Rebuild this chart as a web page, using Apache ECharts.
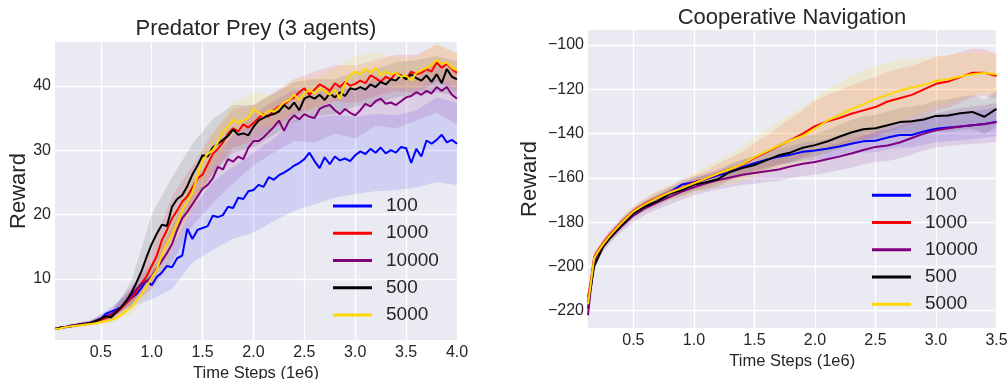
<!DOCTYPE html>
<html>
<head>
<meta charset="utf-8">
<script src="https://cdn.jsdelivr.net/npm/echarts@6/dist/echarts.min.js"></script>
<style>html,body{margin:0;padding:0;background:#fff}#c{width:1008px;height:379px}</style>
</head>
<body>
<div id="c"></div>
<script>
// ---------- shared ----------
const seriesNames = ['100', '1000', '10000', '500', '5000'];
const seriesColors = ['#0000FF', '#FF0000', '#800080', '#000000', '#FFD700'];
const bandColors = ['rgba(0,0,255,0.11)', 'rgba(255,0,0,0.11)', 'rgba(128,0,128,0.12)', 'rgba(0,0,0,0.10)', 'rgba(255,215,0,0.13)'];

// ---------- Predator Prey (3 agents) ----------
const ppSteps = Array.from({length: 80}, (_, i) => +(0.05 * (i + 1)).toFixed(2));
const pp100 = [2.2,2.4,2.5,2.7,2.8,3.0,3.0,3.2,3.5,3.8,
  4.6,4.9,5.2,5.6,6.3,7.0,7.6,8.6,9.8,9.0,
  10.3,11.0,12.0,11.8,13.2,13.6,17.8,16.2,17.6,17.9,
  18.2,19.8,19.6,19.9,21.2,21.0,22.6,22.4,23.6,23.8,
  24.6,24.3,25.8,25.4,26.1,26.5,27.0,27.6,28.0,28.6,
  29.6,28.3,27.2,28.9,27.8,29.0,28.4,28.7,28.3,29.2,
  29.8,29.4,30.2,29.6,30.4,29.5,30.0,29.6,30.5,30.3,
  28.0,30.2,29.0,31.5,31.0,31.6,32.4,31.2,31.6,31.0];
const pp1000 = [2.2,2.4,2.5,2.6,2.8,2.9,3.0,3.1,3.3,3.6,
  3.9,4.2,4.7,5.4,6.2,7.0,8.0,9.3,10.4,12.0,
  13.6,16.0,17.6,19.4,20.6,22.0,22.8,24.2,25.6,26.2,
  27.8,29.4,30.2,31.2,32.6,33.4,32.9,34.0,33.5,34.2,
  35.0,35.6,35.2,36.2,36.8,37.0,37.8,38.2,39.0,39.6,
  38.6,39.4,40.2,39.8,39.2,40.4,39.8,40.6,40.0,40.3,
  40.8,40.4,41.6,41.2,40.6,41.4,41.0,42.0,41.6,41.2,
  42.2,41.8,42.0,42.6,42.2,43.6,42.8,43.4,42.6,42.0];
const pp10000 = [2.2,2.4,2.5,2.7,2.8,3.0,3.1,3.2,3.5,3.8,
  4.2,4.5,5.0,5.6,6.4,7.4,8.4,9.2,9.6,10.4,
  11.6,12.8,14.0,15.4,17.6,19.4,20.4,21.6,22.8,24.0,
  24.6,25.6,27.4,27.0,28.6,28.2,29.0,28.6,30.4,31.4,
  31.4,32.0,32.8,33.6,34.6,33.0,34.6,35.4,34.8,35.6,
  35.2,35.0,36.4,36.8,37.0,36.2,35.6,36.4,35.8,35.4,
  36.2,37.2,36.8,37.6,38.0,37.2,37.4,37.0,37.6,38.2,
  38.4,39.0,38.6,39.2,38.8,39.8,39.2,39.8,38.6,38.0];
const pp500 = [2.2,2.4,2.5,2.6,2.8,2.9,3.0,3.2,3.4,3.8,
  4.2,4.0,4.8,5.6,6.6,7.8,9.4,11.2,13.4,15.4,
  17.0,18.4,18.2,21.2,22.4,23.0,24.4,26.2,27.6,29.2,
  29.0,30.4,31.0,31.6,32.2,33.2,32.4,32.6,32.3,33.6,
  34.6,35.0,35.4,35.6,36.0,37.0,36.4,37.4,36.2,38.0,
  38.4,38.0,38.6,37.8,38.8,38.2,39.0,38.4,39.6,39.4,
  39.8,39.4,40.2,39.8,40.6,40.2,41.0,40.8,41.6,41.0,
  41.8,41.2,40.8,41.6,40.6,41.8,40.4,42.6,41.4,41.0];
const pp5000 = [2.2,2.3,2.5,2.6,2.7,2.8,2.9,3.0,3.1,3.3,
  3.4,3.6,3.9,4.4,5.0,5.6,6.6,7.6,8.8,10.2,
  11.4,13.8,15.4,16.8,18.6,20.6,22.0,23.4,26.0,28.4,
  29.4,30.0,31.2,32.8,33.6,34.8,34.2,34.6,35.0,36.4,
  35.8,35.4,36.2,36.0,36.6,37.4,37.8,38.6,37.8,38.8,
  39.4,38.8,39.6,39.2,38.6,39.4,38.0,40.4,41.6,42.2,
  41.8,42.6,42.0,42.8,41.6,42.2,41.8,42.0,41.4,41.6,
  40.8,42.0,42.4,42.8,43.2,44.0,43.4,43.6,42.8,42.4];
const ppBandSteps = [0.05,0.2,0.4,0.6,0.8,1.0,1.2,1.4,1.6,1.8,2.0,2.2,2.4,2.6,2.8,3.0,3.2,3.4,3.6,3.8,4.0];
const pp100Lo = [2.0,2.5,2.9,4.2,5.8,6.8,8.5,12.5,14.5,16.2,17.2,19.0,20.6,21.6,22.6,23.2,23.6,23.8,24.2,25.0,24.6];
const pp100Hi = [2.4,2.9,3.5,5.6,8.2,11.2,15.1,21.0,25.1,27.4,29.6,31.8,34.6,35.0,35.4,35.2,35.6,35.4,36.2,38.2,37.4];
const pp1000Lo = [2.0,2.4,2.8,3.6,5.6,9.4,16.0,20.8,26.2,30.4,31.4,33.4,35.4,36.6,37.6,37.4,38.4,39.2,38.8,40.6,39.0];
const pp1000Hi = [2.4,2.8,3.4,4.8,8.4,14.6,22.8,27.6,32.6,36.4,37.0,39.0,41.0,42.2,43.2,43.2,44.0,44.8,44.8,46.4,45.0];
const pp10000Lo = [2.0,2.4,2.8,3.8,6.0,8.4,12.6,18.2,21.8,24.8,27.6,29.6,31.4,31.2,32.6,31.8,33.8,33.4,34.6,35.8,34.0];
const pp10000Hi = [2.4,3.0,3.6,5.2,8.8,12.4,18.2,25.0,29.0,32.4,35.6,37.6,39.4,38.8,40.2,39.0,41.4,40.6,42.2,43.8,42.0];
const pp500Lo = [2.0,2.4,2.9,3.5,6.0,10.8,16.6,21.8,26.4,29.6,30.4,32.4,34.4,35.2,35.6,36.8,37.2,38.2,38.6,39.0,38.4];
const pp500Hi = [2.4,2.8,3.5,4.6,9.6,20.0,25.8,31.0,34.8,37.0,37.0,38.8,40.6,41.0,41.0,42.2,42.6,43.6,44.0,44.6,43.8];
const pp5000Lo = [2.0,2.4,2.7,3.1,4.4,8.0,14.2,20.6,27.4,32.2,33.8,33.6,36.2,36.4,38.0,39.8,40.4,39.6,39.6,41.4,39.8];
const pp5000Hi = [2.4,2.8,3.3,4.1,6.8,12.4,19.4,26.2,32.6,37.4,39.0,38.4,41.0,41.2,42.8,44.6,45.2,44.4,44.4,46.6,45.0];
const ppXTicks = [0.5,1.0,1.5,2.0,2.5,3.0,3.5,4.0];
const ppYTicks = [10,20,30,40];

// ---------- Cooperative Navigation ----------
const navSteps = [0.125,0.15,0.175,0.2,0.25,0.3,0.35,0.4,
  0.5,0.6,0.7,0.8,0.9,1.0,1.1,1.2,1.3,1.4,
  1.5,1.6,1.7,1.8,1.9,2.0,2.1,2.2,2.3,2.4,
  2.5,2.6,2.7,2.8,2.9,3.0,3.1,3.2,3.3,3.4,3.5];
const nav100 = [-219,-207,-197,-194,-190,-186.5,-183.5,-180.5,
  -175.5,-172,-169,-166.5,-163,-162,-160.5,-158.8,-157.4,-155.2,
  -153.4,-151.8,-150.4,-149.5,-148.2,-147.6,-146.8,-145.8,-144.6,-143.5,
  -143.2,-141.8,-140.6,-140.6,-139,-137.8,-137.2,-136.8,-136.2,-135.6,-134.6];
const nav1000 = [-214,-206,-196,-193.5,-189.5,-186,-183,-180,
  -175,-171.5,-168.8,-166.5,-164.5,-162.2,-160.4,-158,-156,-154,
  -151,-148.4,-145.6,-142.8,-140,-136.6,-134.5,-133,-131,-129.5,
  -128,-125.5,-124,-122.5,-120,-117.5,-116.5,-114.5,-112.5,-112.5,-114];
const nav10000 = [-222,-209,-198,-195,-191,-187.5,-184.8,-182,
  -177,-173.6,-171,-168.6,-166.2,-164.2,-162.4,-161,-159.8,-158.6,
  -157.8,-157,-156.2,-154.8,-153.6,-152.8,-151.6,-150.4,-149,-147.4,
  -146,-145.4,-144,-142,-140,-138.5,-137.6,-136.8,-136.2,-135.8,-134.8];
const nav500 = [-216,-209,-200,-197,-191,-187.5,-184.5,-181.5,
  -176,-172.8,-170.5,-167.2,-165.5,-163,-162,-160.6,-157.2,-155.5,
  -154.2,-152,-149.8,-148.5,-146.4,-145.2,-143.6,-141.4,-139.5,-138,
  -137.6,-136.2,-134.8,-134.4,-133.6,-132,-131.8,-130.8,-130.2,-132.4,-128.8];
const nav5000 = [-217,-207,-196.5,-194,-190,-186.5,-183.5,-180.5,
  -175.2,-171.8,-169,-166.6,-164.6,-162.5,-160.2,-158,-156,-153.8,
  -150.6,-148,-145.4,-143,-141,-137.8,-134.2,-131.8,-129,-126.8,
  -124.2,-122.5,-120.6,-119.2,-118,-116.2,-115.4,-114.2,-113.2,-112.6,-113.2];
const nav100Spread = [4,3,2.5,2,2,2,2,2, 2,2,2,2.2,2.4,2.5,2.6,2.8,3,3, 3.2,3.4,3.6,3.8,4,4.2,4.4,4.6,4.8,5, 5.2,5.4,5.6,5.8,6,6,6.2,6.2,6.4,6.4,6.5];
const nav1000Spread = [4,3,2.5,2,2,2,2,2, 2.2,2.4,2.6,2.8,3,3.4,3.8,4.4,5,5.8, 6.6,7.6,8.6,9.6,10.6,11.4,12,12.6,13,13.4, 13.6,13.6,13.4,13,12.6,12.2,11.8,11.4,11,10.6,10.2];
const nav10000Spread = [4,3,2.5,2.2,2.2,2.2,2.4,2.6, 2.8,3,3.2,3.4,3.6,3.8,4,4.2,4.4,4.6, 4.8,5,5.2,5.4,5.6,5.8,6,6.2,6.4,6.6, 6.8,7,7.2,7.4,7.6,7.8,8,8.2,8.4,8.6,8.8];
const nav500Spread = [4,3,2.5,2,2,2,2,2, 2,2.2,2.4,2.6,2.8,3,3.2,3.4,3.6,3.8, 4,4.2,4.4,4.6,4.8,5,5.2,5.4,5.6,5.8, 6,6.2,6.4,6.6,6.8,7,7.2,7.4,7.6,7.8,8];
const nav5000Spread = [4,3,2.5,2,2,2,2,2, 2.4,2.8,3.2,3.6,4,4.6,5.2,6,7,8, 9,10,11,12,13,13.6,14.2,14.6,15,15, 14.8,14.4,13.8,13,12.2,11.4,10.8,10.2,9.6,9.2,9];
const navXTicks = [0.5,1.0,1.5,2.0,2.5,3.0,3.5];
const navYTicks = [-220,-200,-180,-160,-140,-120,-100];

// ---------- build ----------
const FONT = '"Liberation Sans", Arial, Helvetica, sans-serif';
const TXT = '#262626';

function lineSeries(ax, xs, ys, k) {
  return {
    type: 'line', name: seriesNames[k], xAxisIndex: ax, yAxisIndex: ax,
    data: xs.map((x, i) => [x, ys[i]]),
    showSymbol: false, symbol: 'none', z: 3 + k,
    lineStyle: {width: 2, color: seriesColors[k]},
    itemStyle: {color: seriesColors[k]}
  };
}
function bandSeries(ax, xs, lo, hi, k) {
  return {
    type: 'custom', xAxisIndex: ax, yAxisIndex: ax, z: 1, silent: true, clip: true,
    data: xs.map((x, i) => [x, lo[i], hi[i]]),
    encode: {x: 0, y: [1, 2]},
    renderItem: function (params, api) {
      if (params.dataIndex !== 0) return null;
      const pts = [];
      for (let i = 0; i < xs.length; i++) pts.push(api.coord([xs[i], hi[i]]));
      for (let i = xs.length - 1; i >= 0; i--) pts.push(api.coord([xs[i], lo[i]]));
      return {type: 'polygon', shape: {points: pts}, style: {fill: bandColors[k]}};
    }
  };
}

const ppLines = [pp100, pp1000, pp10000, pp500, pp5000];
const ppLo = [pp100Lo, pp1000Lo, pp10000Lo, pp500Lo, pp5000Lo];
const ppHi = [pp100Hi, pp1000Hi, pp10000Hi, pp500Hi, pp5000Hi];
const navLines = [nav100, nav1000, nav10000, nav500, nav5000];
const navSpread = [nav100Spread, nav1000Spread, nav10000Spread, nav500Spread, nav5000Spread];

const series = [];
for (let k = 0; k < 5; k++) series.push(bandSeries(0, ppBandSteps, ppLo[k], ppHi[k], k));
for (let k = 0; k < 5; k++) {
  const lo = navLines[k].map((v, i) => v - navSpread[k][i]);
  const hi = navLines[k].map((v, i) => v + navSpread[k][i]);
  series.push(bandSeries(1, navSteps, lo, hi, k));
}
for (let k = 0; k < 5; k++) series.push(lineSeries(0, ppSteps, ppLines[k], k));
for (let k = 0; k < 5; k++) series.push(lineSeries(1, navSteps, navLines[k], k));

const minus = v => String(v).replace('-', '\u2212');
function xAxisCfg(gi, min, max, ticks) {
  return {
    type: 'value', gridIndex: gi, min: min, max: max,
    name: 'Time Steps (1e6)', nameLocation: 'middle', nameGap: 24.5, nameMoveOverlap: false,
    nameTextStyle: {fontSize: 16.5, color: TXT, fontFamily: FONT},
    axisLine: {show: false}, axisTick: {show: false, customValues: ticks},
    axisLabel: {customValues: ticks, fontSize: 16, color: TXT, fontFamily: FONT, margin: 5,
      formatter: v => Number(v).toFixed(1)},
    splitLine: {show: true, lineStyle: {color: '#ffffff', width: 1.3}}
  };
}
function yAxisCfg(gi, min, max, ticks, gap) {
  return {
    type: 'value', gridIndex: gi, min: min, max: max,
    name: 'Reward', nameLocation: 'middle', nameGap: gap, nameMoveOverlap: false,
    nameTextStyle: {fontSize: 22, color: TXT, fontFamily: FONT},
    axisLine: {show: false}, axisTick: {show: false, customValues: ticks},
    axisLabel: {customValues: ticks, fontSize: 16, color: TXT, fontFamily: FONT, margin: 4,
      formatter: v => minus(v)},
    splitLine: {show: true, lineStyle: {color: '#ffffff', width: 1.3}}
  };
}
function legendCfg(left, top) {
  return {
    data: seriesNames.map((n, k) => ({name: n, icon: 'rect', itemStyle: {color: seriesColors[k]}})),
    orient: 'vertical', left: left, top: top,
    itemWidth: 39, itemHeight: 3, itemGap: 0.25, padding: 0, selectedMode: false,
    textStyle: {fontSize: 19, lineHeight: 27, color: TXT, fontFamily: FONT, padding: [0, 0, 0, 9]}
  };
}

const option = {
  animation: false,
  backgroundColor: '#ffffff',
  title: [
    {text: 'Predator Prey (3 agents)', left: 256, top: 18, textAlign: 'center', padding: 0,
      textStyle: {fontSize: 22, fontWeight: 'normal', color: TXT, fontFamily: FONT}},
    {text: 'Cooperative Navigation', left: 792, top: 6.5, textAlign: 'center', padding: 0,
      textStyle: {fontSize: 22, fontWeight: 'normal', color: TXT, fontFamily: FONT}}
  ],
  legend: [legendCfg(333, 192.5), legendCfg(872, 181.7)],
  grid: [
    {left: 55, top: 42, width: 402, height: 298, show: true, backgroundColor: '#EAEAF2', borderWidth: 0,
      containLabel: false, outerBoundsMode: 'none'},
    {left: 588, top: 30, width: 408.5, height: 298, show: true, backgroundColor: '#EAEAF2', borderWidth: 0,
      containLabel: false, outerBoundsMode: 'none'}
  ],
  xAxis: [xAxisCfg(0, 0.05, 4.0, ppXTicks), xAxisCfg(1, 0.125, 3.5, navXTicks)],
  yAxis: [yAxisCfg(0, 0.5, 46.8, ppYTicks, 25), yAxisCfg(1, -227.8, -93.2, navYTicks, 47)],
  series: series
};

const chart = echarts.init(document.getElementById('c'), null, {renderer: 'canvas'});
chart.setOption(option);
</script>
</body>
</html>
